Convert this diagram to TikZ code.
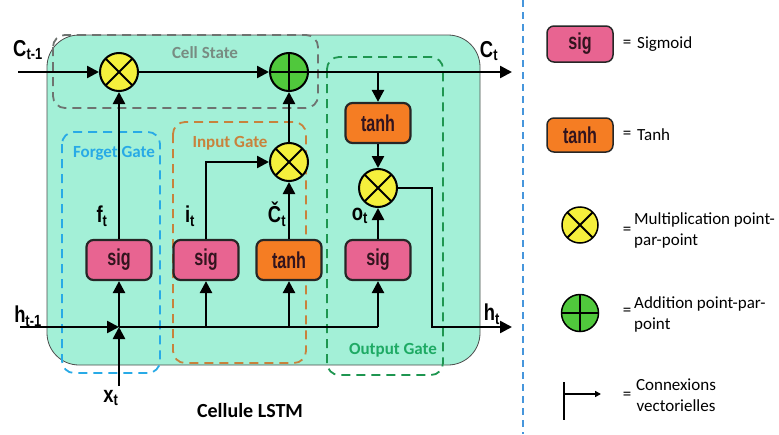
\documentclass[tikz,border=0pt]{standalone}
\usepackage{fontspec}
\setmainfont{Carlito}
\newfontfamily\labfont[FakeStretch=0.8]{Liberation Sans}
\newfontfamily\boxfont[FakeStretch=0.7]{Liberation Sans}
\usetikzlibrary{arrows.meta}
\definecolor{mintc}{RGB}{163,240,215}
\definecolor{pinkc}{RGB}{232,100,145}
\definecolor{orangec}{RGB}{245,125,35}
\definecolor{yellowc}{RGB}{245,240,60}
\definecolor{greenc}{RGB}{80,200,60}
\definecolor{cellgray}{RGB}{110,115,112}
\definecolor{cellgraytxt}{RGB}{120,140,130}
\definecolor{forgetc}{RGB}{40,170,230}
\definecolor{inputc}{RGB}{200,130,60}
\definecolor{outputc}{RGB}{30,150,80}
\definecolor{outputtxt}{RGB}{30,170,100}
\definecolor{sepc}{RGB}{70,150,220}
\definecolor{boxtxt}{RGB}{50,20,30}
\tikzset{
  arr/.style={line width=2.5pt, -{Triangle[length=12pt,width=12pt]}},
  plain/.style={line width=2.5pt},
  gatebox/.style={draw=black!85, line width=2.2pt, rounded corners=7pt, minimum width=65pt, minimum height=40pt, inner sep=0pt, text=boxtxt, font=\boxfont\bfseries\fontsize{23}{24}\selectfont},
  sigbox/.style={gatebox, fill=pinkc},
  tanhbox/.style={gatebox, fill=orangec},
  mulop/.style={circle, draw=black, line width=2pt, fill=yellowc, minimum size=38pt, inner sep=0pt,
    path picture={\draw[line width=2pt] (path picture bounding box.north west)--(path picture bounding box.south east) (path picture bounding box.north east)--(path picture bounding box.south west);}},
  addop/.style={circle, draw=black, line width=2pt, fill=greenc, minimum size=38pt, inner sep=0pt,
    path picture={\draw[line width=2pt] (path picture bounding box.north)--(path picture bounding box.south) (path picture bounding box.east)--(path picture bounding box.west);}},
  dashbox/.style={line width=1.8pt, dash pattern=on 9pt off 6pt, rounded corners=12pt},
  varlab/.style={font=\labfont\bfseries\fontsize{23}{24}\selectfont, inner sep=0pt},
  gatelab/.style={font=\bfseries\fontsize{17}{19}\selectfont, inner sep=0pt},
  legtxt/.style={font=\fontsize{17}{21}\selectfont, inner sep=0pt},
}
\begin{document}
\begin{tikzpicture}[x=1pt,y=-1pt]
\useasboundingbox (0,0) rectangle (779,434);
\fill[white] (0,0) rectangle (779,434);
% main cell
\draw[fill=mintc, draw=black!70, line width=0.8pt, rounded corners=32pt] (47,35) rectangle (480,365);
% dashed gate boxes
\draw[dashbox, draw=cellgray] (53,35) rectangle (318,108);
\draw[dashbox, draw=forgetc] (62,132) rectangle (160,373);
\draw[dashbox, draw=inputc] (173,122) rectangle (306,363);
\draw[dashbox, draw=outputc] (327,57) rectangle (443,375);
\node[gatelab, text=cellgraytxt] (lcs) at (205,53) {Cell State};
\node[gatelab, text=forgetc] (lfg) at (114,153) {Forget Gate};
\node[gatelab, text=inputc] (lig) at (230,143) {Input Gate};
\node[gatelab, text=outputtxt] (log) at (393,350) {Output Gate};
% operators
\node[mulop] (mulf) at (119,72) {};
\node[addop] (add) at (289,72) {};
\node[mulop] (muli) at (289,162) {};
\node[mulop] (mulo) at (378,188) {};
\node[tanhbox] (tanho) at (378,123) {tanh};
\node[sigbox] (sigf) at (119,260) {sig};
\node[sigbox] (sigi) at (206,260) {sig};
\node[tanhbox] (tanhc) at (289,260) {tanh};
\node[sigbox] (sigo) at (378,260) {sig};
% coordinates
\coordinate (cprev) at (18,72);
\coordinate (ct) at (512,72);
\coordinate (bo) at (378,72);
\coordinate (hprev) at (20,327);
\coordinate (jn) at (119,327);
\coordinate (hx) at (378,327);
\coordinate (xt) at (119,386);
\coordinate (hd) at (432,327);
\coordinate (ht) at (512,327);
% connectors
\draw[arr] (cprev) -- (mulf);
\draw[arr] (mulf) -- (add);
\draw[arr] (add) -- (ct);
\draw[arr] (bo) -- (tanho.north);
\draw[arr] (tanho) -- (mulo);
\draw[arr] (mulo.east) -| (hd) -- (ht);
\draw[arr] (hprev) -- (jn);
\draw[plain] (jn) -- (hx);
\draw[arr] (hx) -- (sigo.south);
\draw[arr] (xt) -- (jn);
\draw[arr] (jn) -- (sigf.south);
\draw[arr] (sigi.south |- jn) -- (sigi.south);
\draw[arr] (tanhc.south |- jn) -- (tanhc.south);
\draw[arr] (sigf) -- (mulf);
\draw[arr] (sigi.north) |- (muli.west);
\draw[arr] (tanhc) -- (muli);
\draw[arr] (muli) -- (add);
\draw[arr] (sigo) -- (mulo);
% variable labels
\node[varlab] (lcprev) at (28,50) {C\textsubscript{t-1}};
\node[varlab] (lct) at (489,51) {C\textsubscript{t}};
\node[varlab] (lhprev) at (28,316) {h\textsubscript{t-1}};
\node[varlab] (lht) at (492,314) {h\textsubscript{t}};
\node[varlab] (lxt) at (111,398) {x\textsubscript{t}};
\node[varlab] (lft) at (102,216) {f\textsubscript{t}};
\node[varlab] (lit) at (190,216) {i\textsubscript{t}};
\node[varlab] (lcc) at (277,214) {\v{C}\textsubscript{t}};
\node[varlab] (lot) at (360,216) {o\textsubscript{t}};
\node[font=\bfseries\fontsize{20}{22}\selectfont, inner sep=0pt] (title) at (250,411) {Cellule LSTM};
% separator
\coordinate (s1) at (523,0);
\coordinate (s2) at (523,434);
\draw[draw=sepc, line width=1.2pt, dash pattern=on 7pt off 5pt] (s1) -- (s2);
% legend
\node[sigbox, minimum width=66pt, minimum height=36pt, line width=1.5pt] (lsig) at (580,44) {sig};
\node[legtxt] (e1) at (627,44) {=};
\node[legtxt, anchor=west] (t1) at (637,44) {Sigmoid};
\node[tanhbox, minimum width=66pt, minimum height=34pt, line width=1.5pt] (ltanh) at (580,135) {tanh};
\node[legtxt] (e2) at (627,135) {=};
\node[legtxt, anchor=west] (t2) at (637,135) {Tanh};
\node[mulop, minimum size=36pt, line width=1.5pt] (lmul) at (580,225) {};
\node[legtxt] (e3) at (627,231) {=};
\node[legtxt, anchor=west, align=left] (t3) at (634,230) {Multiplication point-\\par-point};
\node[addop, minimum size=37pt, line width=1.5pt] (ladd) at (580,313) {};
\node[legtxt] (e4) at (627,312) {=};
\node[legtxt, anchor=west, align=left] (t4) at (634,314) {Addition point-par-\\point};
\coordinate (v1) at (564,382);
\coordinate (v2) at (564,420);
\coordinate (va) at (564,394);
\coordinate (vb) at (601,394);
\draw[line width=1.5pt] (v1) -- (v2);
\draw[line width=1.5pt, -{Triangle[length=6pt,width=6pt]}] (va) -- (vb);
\node[legtxt] (e5) at (627,396) {=};
\node[legtxt, align=center] (t5) at (676,395) {Connexions\\vectorielles};
\end{tikzpicture}
\end{document}
